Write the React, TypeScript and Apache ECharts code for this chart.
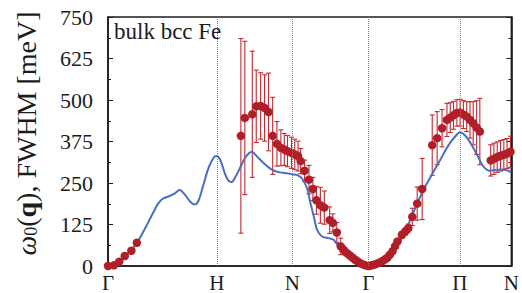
import React, { useEffect, useRef } from "react";
import * as echarts from "echarts";

// high-symmetry points along the path (x in path units)
const tickPos = [0, 1.02, 1.728, 2.44, 3.297, 3.78];
const tickNames = ["Γ", "H", "N", "Γ", "Π", "N"];
const yTicks = [0, 125, 250, 375, 500, 625, 750];

// blue line: theory
const lineX = [
  0, 0.05, 0.1, 0.15, 0.2, 0.25, 0.28, 0.357, 0.419, 0.47, 0.52, 0.573, 0.619, 0.672, 0.727, 0.773, 0.813, 0.85,
  0.896, 0.943, 0.989, 1.014, 1.05, 1.097, 1.128, 1.16, 1.192, 1.238, 1.285, 1.347, 1.393, 1.454, 1.531, 1.608,
  1.682, 1.728, 1.775, 1.821, 1.867, 1.898, 1.929, 1.959, 2.006, 2.067, 2.114, 2.16, 2.206, 2.267, 2.329, 2.405,
  2.44, 2.514, 2.606, 2.699, 2.791, 2.884, 2.96, 3.038, 3.115, 3.191, 3.253, 3.297, 3.346, 3.407, 3.469, 3.515,
  3.577, 3.638, 3.7, 3.78,
];
const lineY = [
  0, 3, 11, 26, 42, 60, 74, 119, 158, 188, 204, 210, 217, 229, 212, 193, 185, 198,
  247, 296, 326, 331, 321, 277, 257, 253, 267, 296, 326, 344, 331, 311, 291, 282,
  279, 276, 274, 262, 232, 188, 148, 109, 89, 84, 79, 59, 40, 25, 12, 2,
  0, 5, 25, 54, 109, 178, 232, 277, 321, 364, 390, 403, 393, 365, 328, 301,
  287, 289, 291, 282,
];

// red points: experiment, with half-width of error bar
const ptX = [
  0, 0.055, 0.105, 0.157, 0.219, 0.27,
  1.245, 1.282, 1.352, 1.389, 1.43, 1.467, 1.504, 1.543, 1.583, 1.62, 1.652, 1.682, 1.719, 1.75, 1.781, 1.805,
  1.842, 1.883, 1.92, 1.953, 1.99, 2.027, 2.077, 2.107, 2.144, 2.181, 2.204, 2.227, 2.25, 2.273, 2.296, 2.319,
  2.342, 2.365, 2.388, 2.411, 2.44,
  2.458, 2.48, 2.503, 2.526, 2.549, 2.572, 2.595, 2.618, 2.641, 2.666, 2.69, 2.713, 2.754, 2.786, 2.814, 2.851,
  2.897, 2.944,
  3.038, 3.084, 3.13, 3.176, 3.207, 3.237, 3.269, 3.299, 3.33, 3.361, 3.392, 3.422, 3.454, 3.484,
  3.586, 3.616, 3.647, 3.678, 3.709, 3.739, 3.771,
];
const ptY = [
  0, 2, 13, 30, 46, 70,
  392, 446, 457, 481, 482, 476, 464, 392, 368, 356, 351, 346, 341, 336, 331, 316,
  287, 260, 232, 198, 183, 176, 138, 130, 101, 59, 50, 42, 36, 30, 24, 18,
  13, 8, 5, 2, 0,
  1, 3, 5, 8, 11, 15, 20, 25, 34, 45, 60, 74, 94, 104, 114, 148,
  188, 232,
  364, 385, 415, 440, 447, 454, 461, 462, 456, 450, 440, 430, 417, 405,
  318, 323, 328, 332, 335, 339, 344,
];
const ptErr = [
  0, 1, 2, 3, 3, 4,
  293, 231, 190, 109, 100, 100, 117, 116, 67, 54, 48, 47, 47, 46, 45, 38,
  32, 43, 35, 42, 54, 50, 40, 27, 30, 25, 6, 4, 3, 3, 2, 2,
  1, 1, 1, 0, 0,
  0, 0, 1, 1, 1, 2, 2, 3, 3, 4, 6, 8, 10, 10, 12, 26,
  50, 92,
  91, 80, 56, 50, 45, 42, 40, 40, 42, 45, 55, 65, 81, 100,
  47, 47, 46, 46, 46, 45, 47,
];

const SERIF = "'Liberation Serif', 'Times New Roman', serif";
const RED = "#b01f28";
const BAR = "#c02a33";
const BLUE = "#4a6ec0";
const INK = "#1c1c1c";

export default function App() {
  const ref = useRef<HTMLDivElement>(null);
  useEffect(() => {
    if (!ref.current) return;
    const chart = echarts.init(ref.current, null, { renderer: "svg" });
    const lineData = lineX.map((x, i) => [x, lineY[i]]);
    const ptData = ptX.map((x, i) => [x, ptY[i], ptErr[i]]);
    const yAxisBase = {
      type: "value",
      min: 0,
      max: 750,
      interval: 125,
      splitLine: { show: false },
      axisLine: { show: true, lineStyle: { color: INK, width: 1.6 } },
      axisTick: { show: true, inside: true, length: 5, lineStyle: { color: INK, width: 1 } },
      minorTick: { show: true, splitNumber: 2, length: 3, lineStyle: { color: INK, width: 1 } },
    };
    chart.setOption({
      animation: false,
      textStyle: { fontFamily: SERIF },
      grid: {
        left: 108,
        top: 17,
        right: 5,
        bottom: 23,
        show: true,
        borderColor: INK,
        borderWidth: 1.6,
        backgroundColor: "transparent",
      },
      xAxis: {
        type: "value",
        min: 0,
        max: 3.78,
        splitLine: { show: false },
        axisTick: { show: false },
        axisLine: { show: true, lineStyle: { color: INK, width: 1.6 } },
        axisLabel: {
          customValues: tickPos,
          formatter: (v: number) => {
            let best = 0;
            tickPos.forEach((p, i) => {
              if (Math.abs(p - v) < Math.abs(tickPos[best] - v)) best = i;
            });
            return tickNames[best];
          },
          fontFamily: SERIF,
          fontSize: 21,
          color: INK,
          margin: 6,
          showMinLabel: true,
          showMaxLabel: true,
        },
      },
      yAxis: [
        {
          ...yAxisBase,
          position: "left",
          axisLabel: {
            customValues: yTicks,
            fontFamily: SERIF,
            fontSize: 22,
            color: INK,
            margin: 15,
          },
          name: "{w|ω}{s|0}{n|(}{b|q}{n|), FWHM [meV]}",
          nameLocation: "middle",
          nameGap: 68,
          nameRotate: 90,
          nameTextStyle: {
            fontFamily: SERIF,
            fontSize: 28,
            color: INK,
            padding: [0, 0, 0, 16],
            rich: {
              w: { fontFamily: SERIF, fontSize: 28, fontStyle: "italic", color: INK },
              s: { fontFamily: SERIF, fontSize: 18, color: INK, verticalAlign: "bottom", padding: [10, 0, 0, 0] },
              n: { fontFamily: SERIF, fontSize: 28, color: INK },
              b: { fontFamily: SERIF, fontSize: 28, fontWeight: "bold", color: INK },
            },
          },
        },
        {
          ...yAxisBase,
          position: "right",
          axisLabel: { show: false },
        },
      ],
      graphic: [
        {
          type: "text",
          left: 114,
          top: 20,
          style: { text: "bulk bcc Fe", font: `23px ${SERIF}`, fill: INK },
          z: 100,
        },
      ],
      series: [
        {
          type: "line",
          data: lineData,
          showSymbol: false,
          smooth: 0.3,
          lineStyle: { color: BLUE, width: 2 },
          z: 2,
          markLine: {
            silent: true,
            symbol: "none",
            label: { show: false },
            lineStyle: { type: "dotted", color: "#808080", width: 1 },
            data: tickPos.slice(1, 5).map((p) => ({ xAxis: p })),
          },
        },
        {
          type: "custom",
          data: ptData,
          z: 1,
          renderItem: (params: any, api: any) => {
            const x = api.value(0);
            const y = api.value(1);
            const e = api.value(2);
            if (e < 3) return { type: "group", children: [] };
            const top = api.coord([x, y + e]);
            const bot = api.coord([x, y - e]);
            const hw = 2.5;
            const st = { stroke: BAR, lineWidth: 1.1 };
            return {
              type: "group",
              children: [
                { type: "line", shape: { x1: top[0], y1: top[1], x2: bot[0], y2: bot[1] }, style: st },
                { type: "line", shape: { x1: top[0] - hw, y1: top[1], x2: top[0] + hw, y2: top[1] }, style: st },
                { type: "line", shape: { x1: bot[0] - hw, y1: bot[1], x2: bot[0] + hw, y2: bot[1] }, style: st },
              ],
            };
          },
        },
        {
          type: "scatter",
          data: ptData.map((d) => [d[0], d[1]]),
          symbol: "circle",
          symbolSize: 8.5,
          itemStyle: { color: RED, opacity: 1 },
          z: 3,
        },
      ],
    });
    return () => chart.dispose();
  }, []);
  return (
    <div
      ref={ref}
      style={{ position: "fixed", left: 0, top: 0, width: 522, height: 293, background: "#fff" }}
    />
  );
}
